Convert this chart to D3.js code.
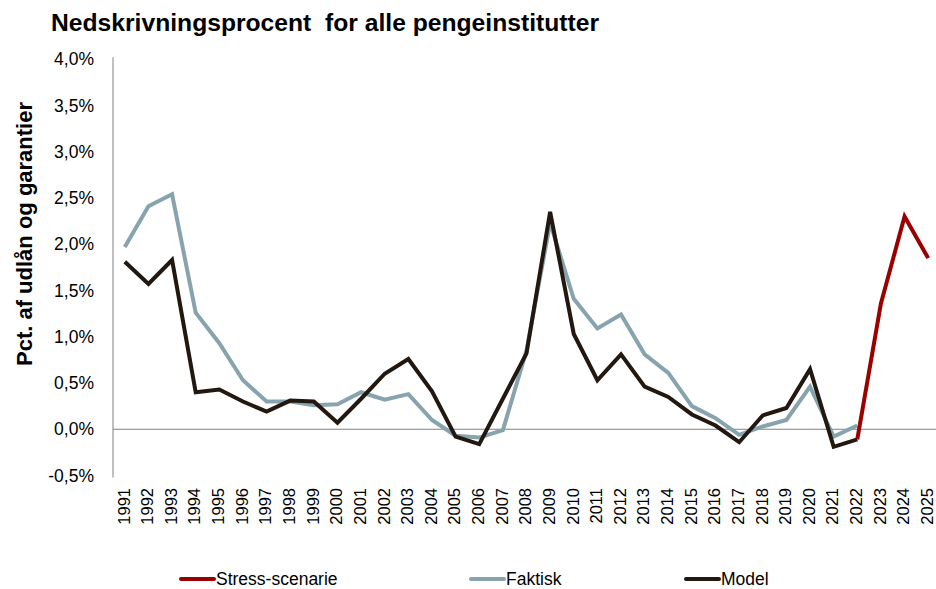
<!DOCTYPE html>
<html>
<head>
<meta charset="utf-8">
<script src="https://cdn.jsdelivr.net/npm/d3@7"></script>
<style>
  body { margin: 0; background: #fff; }
  text { font-family: "Liberation Sans", Arial, sans-serif; fill: #000; }
</style>
</head>
<body>
<div id="chart"></div>
<script>
// data (percent)
var years = d3.range(1991, 2026).map(String);
var yTicks = [-0.5, 0, 0.5, 1, 1.5, 2, 2.5, 3, 3.5, 4];

var faktisk = [1.97, 2.41, 2.54, 1.26, 0.93, 0.53, 0.30, 0.30, 0.26, 0.27,
  0.40, 0.32, 0.38, 0.10, -0.07, -0.09, -0.01, 0.85, 2.23, 1.41,
  1.09, 1.24, 0.81, 0.61, 0.25, 0.12, -0.06, 0.03, 0.10, 0.46,
  -0.08, 0.04];
var model = [1.81, 1.57, 1.83, 0.40, 0.43, 0.30, 0.19, 0.31, 0.30, 0.07,
  0.33, 0.60, 0.76, 0.41, -0.08, -0.16, 0.33, 0.82, 2.35, 1.03,
  0.53, 0.81, 0.46, 0.35, 0.16, 0.04, -0.14, 0.15, 0.23, 0.65,
  -0.19, -0.11];
var stressYears = ["2022", "2023", "2024", "2025"];
var stress = [-0.11, 1.36, 2.30, 1.85];

var svgWidth = 936;
var svgHeight = 589;

var svg = d3.select("#chart")
  .append("svg")
  .attr("width", svgWidth)
  .attr("height", svgHeight);

var x = d3.scalePoint()
  .domain(years)
  .range([113, 940])
  .padding(0.5);

var y = d3.scaleLinear()
  .domain([-0.5, 4])
  .range([475.5, 59.25]);

// title
svg.append("text")
  .attr("x", 51)
  .attr("y", 31)
  .style("font-size", "23.5px")
  .style("font-weight", "bold")
  .attr("xml:space", "preserve")
  .style("white-space", "pre")
  .attr("textLength", 548)
  .attr("lengthAdjust", "spacingAndGlyphs")
  .text("Nedskrivningsprocent  for alle pengeinstitutter");

// y axis label
svg.append("text")
  .attr("transform", "translate(32, 234) rotate(-90)")
  .style("font-size", "22px")
  .style("font-weight", "bold")
  .style("text-anchor", "middle")
  .text("Pct. af udlån og garantier");

// y tick labels
var fmt = function(v) { return d3.format(".1f")(v).replace(".", ",").replace("−", "-") + "%"; };
svg.selectAll(".ytick")
  .data(yTicks)
  .enter()
  .append("text")
  .attr("class", "ytick")
  .attr("x", 94)
  .attr("y", d => y(d))
  .attr("dy", "0.35em")
  .style("font-size", "17.5px")
  .style("text-anchor", "end")
  .text(fmt);

// y axis line
svg.append("line")
  .attr("x1", 113).attr("x2", 113)
  .attr("y1", y(4) - 2).attr("y2", y(-0.5) + 2)
  .attr("stroke", "#808080")
  .attr("stroke-width", 1);

// zero line
svg.append("line")
  .attr("x1", 113).attr("x2", 936)
  .attr("y1", y(0)).attr("y2", y(0))
  .attr("stroke", "#808080")
  .attr("stroke-width", 1);

// x tick labels
svg.selectAll(".xtick")
  .data(years)
  .enter()
  .append("text")
  .attr("class", "xtick")
  .attr("transform", d => `translate(${x(d) - 1}, 488) rotate(-90)`)
  .attr("dy", "0.35em")
  .style("font-size", "16.5px")
  .style("text-anchor", "end")
  .text(d => d);

var line = d3.line()
  .x(d => x(d[0]))
  .y(d => y(d[1]));

var series = [
  { name: "Faktisk", color: "#87a3ad", pts: d3.zip(years, faktisk) },
  { name: "Model", color: "#221810", pts: d3.zip(years, model) },
  { name: "Stress-scenarie", color: "#990000", pts: d3.zip(stressYears, stress) }
];

svg.selectAll(".series")
  .data(series)
  .enter()
  .append("path")
  .attr("class", "series")
  .attr("d", d => line(d.pts))
  .attr("fill", "none")
  .attr("stroke", d => d.color)
  .attr("stroke-width", 4)
  .attr("stroke-linejoin", "miter");

// legend
var legend = [
  { name: "Stress-scenarie", color: "#990000", x: 181 },
  { name: "Faktisk", color: "#87a3ad", x: 471 },
  { name: "Model", color: "#221810", x: 686 }
];

var lg = svg.selectAll(".legend")
  .data(legend)
  .enter()
  .append("g")
  .attr("class", "legend")
  .attr("transform", d => `translate(${d.x}, 579)`);

lg.append("line")
  .attr("x1", 0).attr("x2", 33)
  .attr("stroke", d => d.color)
  .attr("stroke-width", 4)
  .attr("stroke-linecap", "round");

lg.append("text")
  .attr("x", 35)
  .attr("dy", "0.35em")
  .style("font-size", "17.5px")
  .text(d => d.name);
</script>
</body>
</html>
